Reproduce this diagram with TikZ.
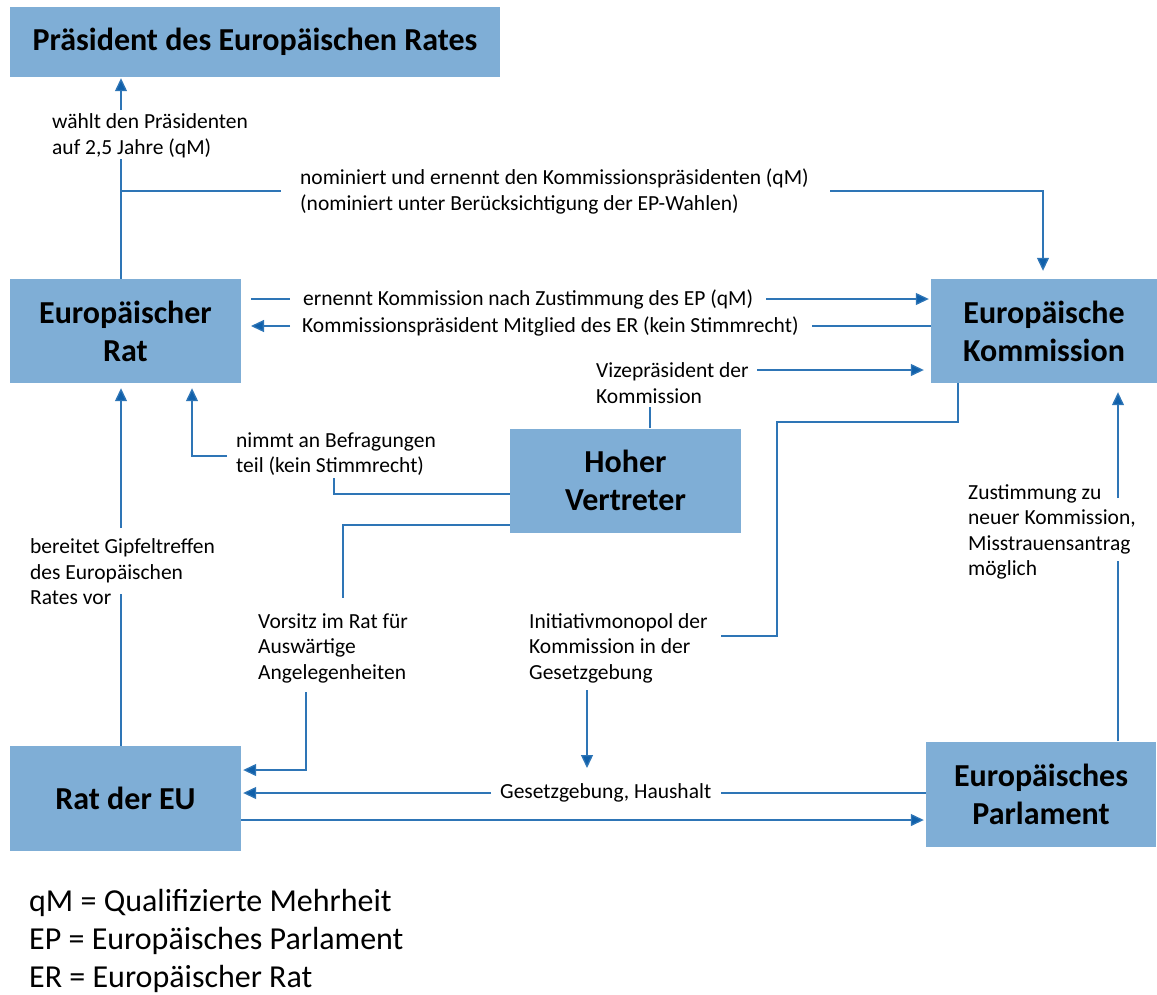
\documentclass[tikz,border=0pt]{standalone}
\usepackage{fontspec}
\setmainfont{Carlito}
\usetikzlibrary{arrows.meta}
\definecolor{boxblue}{RGB}{127,174,214}
\definecolor{linblue}{RGB}{46,117,182}
\definecolor{tipblue}{RGB}{16,96,170}
\begin{document}
\begin{tikzpicture}[x=1pt,y=-1pt,
  box/.style={fill=boxblue, draw=none, inner sep=0pt, align=center, text=black,
    font=\fontsize{32}{38}\selectfont\bfseries},
  lbl/.style={align=left, inner sep=0pt, anchor=west, text=black,
    font=\fontsize{21.5}{25.5}\selectfont},
  con/.style={draw=linblue, line width=1.3pt},
  arr/.style={con, -{Triangle[length=13pt,width=12pt,fill=tipblue]}},
]
\useasboundingbox (0,0) rectangle (1157,994);

% boxes
\node[box, minimum width=490pt, minimum height=70pt] (pres) at (255,42) {Präsident des Europäischen Rates};
\node[box, minimum width=231pt, minimum height=104pt] (er) at (125.5,331) {Europäischer\\Rat};
\node[box, minimum width=226pt, minimum height=104pt] (ek) at (1044,331) {Europäische\\Kommission};
\node[box, minimum width=231pt, minimum height=104pt] (hv) at (625.5,480.5) {Hoher\\Vertreter};
\node[box, minimum width=231pt, minimum height=105pt] (rat) at (125.5,798.5) {Rat der EU};
\node[box, minimum width=230pt, minimum height=105pt] (ep) at (1041,794) {Europäisches\\Parlament};

% labels
\node[lbl] (lwahl) at (52,136) {wählt den Präsidenten\\auf 2,5 Jahre (qM)};
\node[lbl] (lnom) at (300,191.5) {nominiert und ernennt den Kommissionspräsidenten (qM)\\(nominiert unter Berücksichtigung der EP-Wahlen)};
\node[lbl] (lern) at (303,299.5) {ernennt Kommission nach Zustimmung des EP (qM)};
\node[lbl] (lkp) at (302,326.5) {Kommissionspräsident Mitglied des ER (kein Stimmrecht)};
\node[lbl] (lvize) at (596,383) {Vizepräsident der\\Kommission};
\node[lbl] (lbef) at (236,454) {nimmt an Befragungen\\teil (kein Stimmrecht)};
\node[lbl] (lgip) at (30,572) {bereitet Gipfeltreffen\\des Europäischen\\Rates vor};
\node[lbl] (lvor) at (258,648) {Vorsitz im Rat für\\Auswärtige\\Angelegenheiten};
\node[lbl] (lini) at (529,648) {Initiativmonopol der\\Kommission in der\\Gesetzgebung};
\node[lbl] (lzus) at (968,532) {Zustimmung zu\\neuer Kommission,\\Misstrauensantrag\\möglich};
\node[lbl] (lges) at (500,793) {Gesetzgebung, Haushalt};
\node[lbl, font=\fontsize{32}{38}\selectfont] (leg) at (29,941) {qM = Qualifizierte Mehrheit\\EP = Europäisches Parlament\\ER = Europäischer Rat};

% helper coordinates
\coordinate (xL) at (121,0);
\coordinate (xB) at (192,0);
\coordinate (xK) at (1043,0);
\coordinate (xV) at (650,0);
\coordinate (xZ) at (1118,0);
\coordinate (pWahlTop) at (121,110);
\coordinate (pWahlBot) at (121,159);
\coordinate (pNomL) at (281,191);
\coordinate (pNomR) at (830,191);
\coordinate (pErnL) at (251,299);
\coordinate (pErnM) at (290,299);
\coordinate (pErnR) at (766,299);
\coordinate (pKpR) at (812,326);
\coordinate (pKpM) at (290,326);
\coordinate (pKpL) at (251,326);
\coordinate (pVizeR) at (757,370);
\coordinate (pVizeB) at (650,407);
\coordinate (pBefL) at (227,456);
\coordinate (pBefC) at (334,494);
\coordinate (pBefT) at (334,478);
\coordinate (pVorC) at (343,525);
\coordinate (pVorB) at (343,598);
\coordinate (pVorT) at (306,692);
\coordinate (pVorE) at (243,770);
\coordinate (pIniA) at (958,422);
\coordinate (pIniB) at (777,636);
\coordinate (pIniE) at (721,636);
\coordinate (pIniT) at (587,690);
\coordinate (pIniTip) at (587,768);
\coordinate (pGesR) at (721,793);
\coordinate (pGesL) at (491,793);
\coordinate (pRatEp) at (241,820);
\coordinate (pGipB) at (121,594);
\coordinate (pGipT) at (121,528);
\coordinate (pZusT) at (1118,498);
\coordinate (pZusB) at (1118,561);

% connectors
\draw[con] (er.north -| xL) -- (pWahlBot);
\draw[arr] (pWahlTop) -- ([yshift=-1pt]pres.south -| xL);
\draw[con] (pNomL -| xL) -- (pNomL);
\draw[arr] (pNomR) -| ([yshift=8pt]ek.north -| xK);

\draw[con] (pErnL) -- (pErnM);
\draw[arr] (pErnR) -- ([xshift=-2pt]ek.west |- pErnR);
\draw[con] (ek.west |- pKpR) -- (pKpR);
\draw[arr] (pKpM) -- (pKpL);

\draw[con] (hv.north -| xV) -- (pVizeB);
\draw[arr] (pVizeR) -- ([xshift=-7pt]ek.west |- pVizeR);

\draw[con] (hv.west |- pBefC) -- (pBefC) -- (pBefT);
\draw[arr] (pBefL) -| ([yshift=-5pt]er.south -| xB);

\draw[con] (hv.west |- pVorC) -- (pVorC) -- (pVorB);
\draw[arr] (pVorT) |- ([xshift=2pt]rat.east |- pVorE);

\draw[con] (ek.south -| pIniA) -- (pIniA) -| (pIniB) -- (pIniE);
\draw[arr] (pIniT) -- (pIniTip);

\draw[con] (ep.west |- pGesR) -- (pGesR);
\draw[arr] (pGesL) -- ([xshift=2pt]rat.east |- pGesL);
\draw[arr] (pRatEp) -- ([xshift=-2pt]ep.west |- pRatEp);

\draw[con] (rat.north -| xL) -- (pGipB);
\draw[arr] (pGipT) -- ([yshift=-5pt]er.south -| xL);

\draw[con] (ep.north -| xZ) -- (pZusB);
\draw[arr] (pZusT) -- ([yshift=-9pt]ek.south -| xZ);
\end{tikzpicture}
\end{document}
